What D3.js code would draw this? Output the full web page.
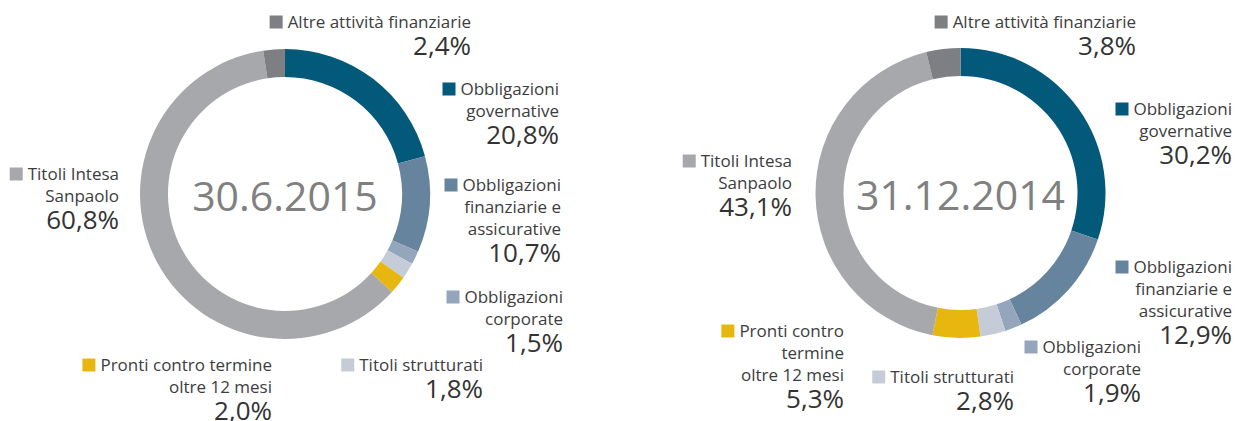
<!DOCTYPE html>
<html>
<head>
<meta charset="utf-8">
<script src="https://cdn.jsdelivr.net/npm/d3@7"></script>
<style>
  body { margin: 0; background: #fff; }
  svg { display: block; font-family: 'Open Sans', sans-serif; }
  .riga { font-size: 17px; fill: #3d3d3d; }
  .perc { font-size: 26px; fill: #333; }
  .data { font-size: 41px; fill: #808080; }
</style>
</head>
<body>
<div id="graf"></div>
<script>
// I. Dati
categorie = ['Obbligazioni governative', 'Obbligazioni finanziarie e assicurative',
             'Obbligazioni corporate', 'Titoli strutturati',
             'Pronti contro termine oltre 12 mesi', 'Titoli Intesa Sanpaolo',
             'Altre attività finanziarie']
date = ['30.6.2015', '31.12.2014']
valori2015 = [20.8, 10.7, 1.5, 1.8, 2.0, 60.8, 2.4]
valori2014 = [30.2, 12.9, 1.9, 2.8, 5.3, 43.1, 3.8]

// righe delle etichette (come vanno a capo nel grafico)
righe2015 = [['Obbligazioni', 'governative'], ['Obbligazioni', 'finanziarie e', 'assicurative'],
             ['Obbligazioni', 'corporate'], ['Titoli strutturati'],
             ['Pronti contro termine', 'oltre 12 mesi'], ['Titoli Intesa', 'Sanpaolo'],
             ['Altre attività finanziarie']]
righe2014 = [['Obbligazioni', 'governative'], ['Obbligazioni', 'finanziarie e', 'assicurative'],
             ['Obbligazioni', 'corporate'], ['Titoli strutturati'],
             ['Pronti contro', 'termine', 'oltre 12 mesi'], ['Titoli Intesa', 'Sanpaolo'],
             ['Altre attività finanziarie']]

// II. Configurazione
ancho_total = 1237
alto_total = 421

colore = d3.scaleOrdinal()
           .domain(categorie)
           .range(['#03597a', '#67849f', '#93a6bb', '#c5ccd7', '#e8b70f', '#a7a8ab', '#7e7f83'])

// posizione delle etichette: [x destra, baseline prima riga]
pos2015 = [[559, 95], [561, 191], [563, 303], [483, 371], [272, 371], [119, 180], [471, 28]]
pos2014 = [[1232, 115], [1232, 273], [1141, 353], [1014, 383], [844, 337], [792, 167], [1136, 28]]

grafici = [
  { data: date[0], valori: valori2015, righe: righe2015, pos: pos2015, cx: 285, cy: 194 },
  { data: date[1], valori: valori2014, righe: righe2014, pos: pos2014, cx: 960.5, cy: 193 }
]

svg = d3.select('#graf').append('svg')
        .attr('width', ancho_total)
        .attr('height', alto_total)

pie = d3.pie().sort(null).value(d => d.v)
arco = d3.arc().innerRadius(117).outerRadius(145)
fmt = v => d3.format('.1f')(v).replace('.', ',') + '%'

// III. Disegno
grafici.forEach(gr => {
  dati = categorie.map((c, i) => ({ cat: c, v: gr.valori[i], righe: gr.righe[i], pos: gr.pos[i] }))

  g = svg.append('g')
         .attr('transform', `translate(${gr.cx}, ${gr.cy})`)

  g.selectAll('path')
   .data(pie(dati))
   .enter()
   .append('path')
     .attr('d', arco)
     .attr('fill', d => colore(d.data.cat))

  g.append('text')
   .attr('class', 'data')
   .attr('text-anchor', 'middle')
   .attr('y', 17)
   .text(gr.data)

  // etichette
  dati.forEach(d => {
    x = d.pos[0]
    y0 = d.pos[1]
    et = svg.append('g')
    prima = null
    d.righe.forEach((r, j) => {
      t = et.append('text')
            .attr('class', 'riga')
            .attr('x', x)
            .attr('y', y0 + j * 22)
            .attr('text-anchor', 'end')
            .text(r)
      if (j == 0) prima = t
    })
    et.append('text')
      .attr('class', 'perc')
      .attr('x', x)
      .attr('y', y0 + (d.righe.length - 1) * 22 + 26.5)
      .attr('text-anchor', 'end')
      .text(fmt(d.v))

    w = prima.node().getComputedTextLength()
    et.append('rect')
      .attr('x', x - w - 5 - 13)
      .attr('y', y0 - 12.5)
      .attr('width', 13)
      .attr('height', 13)
      .attr('fill', colore(d.cat))
  })
})
</script>
</body>
</html>
